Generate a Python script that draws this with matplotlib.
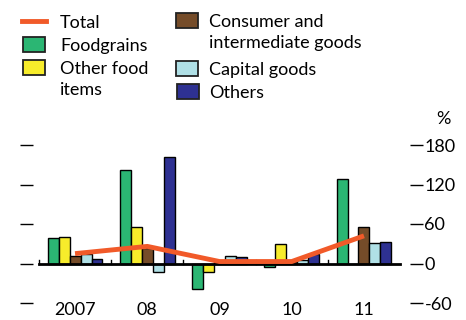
import matplotlib
matplotlib.use('Agg')
import matplotlib.pyplot as plt
from matplotlib.patches import Rectangle
from matplotlib.lines import Line2D
import matplotlib.transforms as mtransforms
import numpy as np

# data
years = ['2007', '08', '09', '10', '11']
foodgrains = [39, 142, -38, -5, 128]
other_food = [40, 55, -13, 30, 0]
consumer = [12, 23, 2, 2, 55]
capital = [15, -13, 11, 6, 31]
others = [7, 162, 10, 14, 33]
total = [15, 26, 3, 3, 42]

series = [foodgrains, other_food, consumer, capital, others]
names = ['Foodgrains', 'Other food\nitems', 'Consumer and\nintermediate goods', 'Capital goods', 'Others']
colors = ['#2bb673', '#f7ec2b', '#754c29', '#b0e0e6', '#2e3192']
line_color = '#f15a29'

plt.rcParams['font.family'] = ['Lato', 'DejaVu Sans']
plt.rcParams['font.size'] = 13

W, H = 466, 320
fig = plt.figure(figsize=(W / 100, H / 100), dpi=100)
ax = fig.add_axes([20 / W, 17 / H, 403 / W, 158 / H])

x = np.arange(len(years))
w = 0.152
for i, vals in enumerate(series):
    ax.bar(x + (i - 2) * w, vals, w, color=colors[i], edgecolor='black', linewidth=1, zorder=2)

ax.plot(x, total, color=line_color, lw=3.5, zorder=4, solid_capstyle='butt')

# baseline and group separators
ax.plot([-0.5, 4.5], [0, 0], color='black', lw=2, zorder=3)
for sep in [-0.5, 0.5, 1.5, 2.5, 3.5]:
    ax.plot([sep, sep], [0, 6], color='black', lw=1, zorder=3)

ax.set_xlim(-0.762, 4.817)
ax.set_ylim(-60, 180)
for s in ax.spines.values():
    s.set_visible(False)

ax.set_xticks([])
trans = mtransforms.blended_transform_factory(ax.transData, fig.transFigure)
for xi, yr in zip(x, years):
    ax.text(xi, 1 - 310 / H, yr, transform=trans, ha='center', va='center')

ticks = [-60, 0, 60, 120, 180]
ax.set_yticks(ticks)
ax.set_yticklabels([str(t) for t in ticks])
ax.tick_params(axis='y', which='both', left=True, right=True, labelleft=False, labelright=True,
               direction='in', length=9.5, width=1, pad=1)
fig.text(443 / W, 1 - 119 / H, '%', ha='center', va='center')

# legend drawn by hand
def key_box(px, py, color):
    fig.patches.append(Rectangle((px / W, 1 - (py + 15) / H), 22 / W, 15 / H, transform=fig.transFigure,
                                 facecolor=color, edgecolor='#222222', lw=1.3))

fig.lines.append(Line2D([22 / W, 46 / W], [1 - 21 / H, 1 - 21 / H], transform=fig.transFigure,
                        color=line_color, lw=3.5))
fig.text(60 / W, 1 - 23 / H, 'Total', va='center')

key_box(23, 37, colors[0])
fig.text(60 / W, 1 - 46 / H, names[0], va='center')
key_box(23, 60, colors[1])
fig.text(60 / W, 1 - 61 / H, names[1], va='top', linespacing=1.35)

key_box(176, 13, colors[2])
fig.text(209 / W, 1 - 14 / H, names[2], va='top', linespacing=1.35)
key_box(176, 61, colors[3])
fig.text(209 / W, 1 - 70 / H, names[3], va='center')
key_box(177, 84, colors[4])
fig.text(209 / W, 1 - 93 / H, names[4], va='center')

fig.savefig('out.png', dpi=100)
